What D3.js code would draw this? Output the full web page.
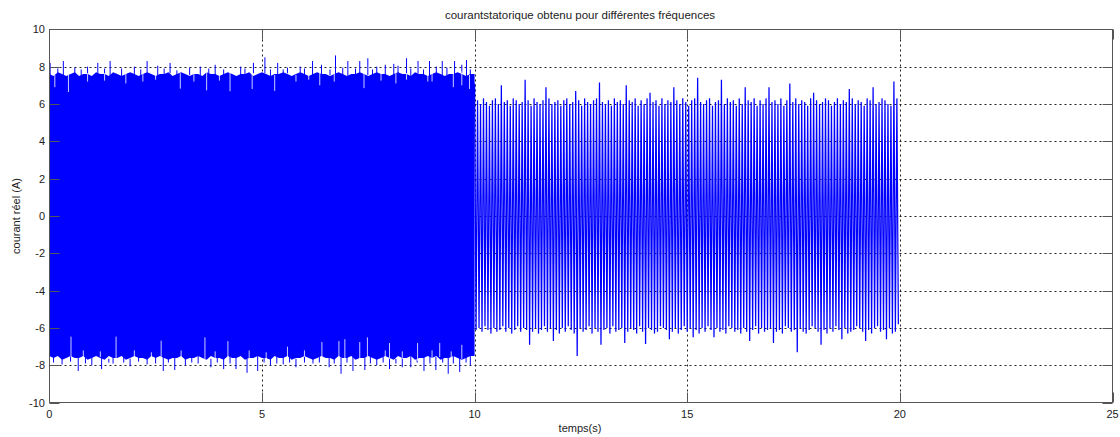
<!DOCTYPE html>
<html>
<head>
<meta charset="utf-8">
<script src="https://cdn.jsdelivr.net/npm/d3@7"></script>
<style>
  body { margin: 0; background: #fff; }
  text { font-family: "Liberation Sans", Arial, sans-serif; fill: #222; }
</style>
</head>
<body>
<svg></svg>
<script>
// axis ticks
const xTicks = [0, 5, 10, 15, 20, 25];
const yTicks = [-10, -8, -6, -4, -2, 0, 2, 4, 6, 8, 10];

// 0-10 s : dense band, edges sampled every 0.1 s
const bandStep = 0.1;
const bandUpper = [
  7.6,7.5,7.7,7.6,7.5,7.6,7.7,7.5,7.6,7.6,
  7.5,7.7,7.6,7.6,7.5,7.7,7.6,7.5,7.6,7.7,
  7.6,7.5,7.6,7.7,7.6,7.5,7.6,7.6,7.7,7.5,
  7.6,7.7,7.6,7.5,7.6,7.6,7.5,7.7,7.6,7.6,
  7.5,7.6,7.7,7.6,7.5,7.6,7.6,7.7,7.5,7.6,
  7.7,7.6,7.5,7.6,7.6,7.7,7.6,7.5,7.6,7.7,
  7.6,7.5,7.6,7.7,7.6,7.6,7.5,7.6,7.7,7.6,
  7.5,7.6,7.6,7.7,7.6,7.5,7.6,7.7,7.6,7.6,
  7.5,7.6,7.7,7.6,7.6,7.5,7.7,7.6,7.6,7.5,
  7.6,7.7,7.6,7.5,7.6,7.6,7.7,7.6,7.5,7.6
];
const bandLower = [
  -7.5,-7.6,-7.5,-7.7,-7.6,-7.5,-7.6,-7.6,-7.5,-7.7,
  -7.6,-7.5,-7.6,-7.7,-7.5,-7.6,-7.6,-7.5,-7.7,-7.6,
  -7.5,-7.6,-7.6,-7.7,-7.5,-7.6,-7.5,-7.6,-7.7,-7.6,
  -7.6,-7.5,-7.7,-7.6,-7.6,-7.5,-7.6,-7.7,-7.5,-7.6,
  -7.6,-7.7,-7.5,-7.6,-7.6,-7.5,-7.7,-7.6,-7.6,-7.5,
  -7.6,-7.6,-7.7,-7.5,-7.6,-7.6,-7.5,-7.7,-7.6,-7.6,
  -7.5,-7.6,-7.7,-7.6,-7.5,-7.6,-7.6,-7.7,-7.5,-7.6,
  -7.6,-7.5,-7.7,-7.6,-7.6,-7.5,-7.6,-7.7,-7.6,-7.5,
  -7.6,-7.7,-7.5,-7.6,-7.6,-7.5,-7.7,-7.6,-7.6,-7.5,
  -7.6,-7.5,-7.7,-7.6,-7.6,-7.5,-7.6,-7.7,-7.6,-7.5
];

// spikes sticking out of the band [t, value]
const upSpikes = [
  [0.02,8.2],[0.2,7.9],[0.33,8.3],[0.6,7.95],[0.75,7.85],[0.9,8.0],[1.14,8.2],[1.3,7.9],
  [1.43,8.3],[1.7,7.9],[2.0,8.0],[2.15,7.85],[2.3,8.3],[2.55,8.05],[2.7,7.9],[2.84,8.2],
  [3.0,7.8],[3.3,7.95],[3.55,8.0],[3.75,7.9],[3.9,8.1],[4.1,7.85],[4.5,8.0],[4.6,7.9],
  [4.8,8.2],[5.07,8.5],[5.2,7.85],[5.37,8.2],[5.5,7.85],[5.6,7.95],[5.9,8.0],[6.0,7.9],
  [6.19,8.3],[6.4,8.1],[6.6,7.85],[6.73,8.6],[6.9,7.95],[7.02,8.3],[7.2,7.9],[7.3,8.3],
  [7.49,8.45],[7.6,7.85],[7.7,8.0],[7.9,8.1],[8.1,8.15],[8.2,8.05],[8.4,8.45],[8.5,7.9],
  [8.67,8.3],[8.8,7.85],[8.94,8.3],[9.1,8.0],[9.24,8.3],[9.35,7.95],[9.53,8.3],[9.7,8.1],
  [9.81,8.35],[9.9,7.85]
];
const downSpikes = [
  [0.1,-7.85],[0.3,-7.95],[0.5,-7.8],[0.68,-8.3],[0.85,-7.9],[1.0,-8.0],[1.23,-8.2],[1.4,-7.85],
  [1.5,-7.9],[1.75,-7.85],[1.9,-8.05],[2.1,-7.8],[2.3,-7.95],[2.5,-7.9],[2.68,-8.3],[2.8,-7.85],
  [2.95,-8.25],[3.2,-8.0],[3.35,-7.85],[3.5,-7.9],[3.8,-8.1],[3.95,-7.85],[4.1,-8.2],[4.25,-7.9],
  [4.39,-8.2],[4.65,-8.4],[4.9,-8.3],[5.05,-7.85],[5.2,-8.0],[5.35,-7.9],[5.5,-7.95],[5.65,-7.85],
  [5.8,-8.1],[6.0,-7.85],[6.2,-7.9],[6.35,-7.85],[6.58,-8.1],[6.7,-7.9],[6.86,-8.45],[7.0,-7.85],
  [7.14,-8.3],[7.42,-8.25],[7.55,-7.9],[7.7,-8.0],[7.85,-7.85],[8.0,-8.2],[8.15,-7.9],[8.3,-8.1],
  [8.5,-8.1],[8.65,-7.85],[8.81,-8.3],[8.95,-7.9],[9.09,-8.25],[9.25,-7.85],[9.38,-8.45],[9.5,-7.9],
  [9.65,-8.35],[9.8,-7.85],[9.9,-8.0]
];
// white notches cutting into the band [t, value]
const topNotches = [
  [0.13,6.9],[0.45,6.64],[0.9,7.2],[1.3,7.25],[1.8,7.1],[2.2,7.2],[2.5,7.3],[3.08,6.82],
  [3.4,7.2],[3.7,6.73],[4.0,7.25],[4.25,6.68],[4.77,6.8],[5.3,6.7],[5.8,7.2],[6.1,7.3],
  [6.36,7.0],[6.7,7.2],[7.4,6.85],[7.8,7.25],[8.15,7.1],[8.4,7.3],[8.9,7.2],[9.0,7.2],
  [9.5,6.9],[9.7,7.0],[9.88,6.8]
];
const bottomNotches = [
  [0.51,-6.46],[0.8,-7.2],[1.2,-7.25],[1.57,-6.46],[2.0,-7.2],[2.4,-7.3],[2.63,-6.68],[3.1,-7.2],
  [3.66,-6.5],[3.9,-7.25],[4.2,-6.7],[4.7,-7.2],[5.1,-7.3],[5.6,-7.0],[6.0,-7.2],[6.41,-6.75],
  [6.81,-6.7],[6.95,-6.6],[7.3,-6.75],[7.48,-6.5],[7.9,-7.2],[8.0,-6.8],[8.3,-7.25],[8.66,-6.8],
  [9.0,-7.2],[9.18,-6.8],[9.45,-7.25],[9.7,-6.9]
];

// 10-20 s : separate oscillations, one max and one min per cycle
const oscStart = 10;
const oscTops = [
  7.1,6.2,6.0,6.3,6.1,5.9,6.2,6.3,6.0,7.0,
  6.1,6.2,5.9,6.3,6.2,6.0,6.1,7.3,6.2,5.9,
  6.3,6.1,6.0,6.2,6.9,6.3,6.0,6.1,6.2,5.9,
  6.2,6.3,6.0,6.1,6.7,6.2,5.9,6.3,6.1,6.0,
  6.2,6.3,7.15,6.1,6.0,6.2,5.9,6.3,6.1,6.2,
  6.0,7.0,6.2,6.1,6.3,5.9,6.2,6.0,6.3,6.6,
  6.1,6.2,5.9,6.3,6.0,6.2,6.1,6.9,6.2,6.0,
  6.3,6.1,5.9,6.2,6.3,7.4,6.1,6.0,6.2,6.3,
  5.9,6.1,6.2,7.3,6.0,6.3,6.1,6.2,5.9,6.3,
  6.0,6.9,6.2,6.1,6.3,5.9,6.2,6.0,6.3,6.9,
  6.1,6.2,6.0,6.3,5.9,6.2,7.1,6.1,6.3,6.0,
  6.2,6.1,5.9,6.3,6.6,6.2,6.0,6.1,6.3,6.2,
  5.9,6.1,6.3,6.0,6.2,6.1,6.8,6.3,6.0,6.2,
  6.1,5.9,6.3,6.2,6.9,6.0,6.1,6.3,6.2,6.0,
  5.9,7.2,6.3
];
const oscBottoms = [
  -6.1,-6.0,-6.2,-5.9,-6.1,-6.3,-6.0,-6.2,-6.1,-5.9,
  -6.2,-6.0,-6.3,-6.1,-5.9,-6.2,-6.0,-6.1,-6.9,-6.2,
  -6.0,-6.3,-6.1,-5.9,-6.2,-6.0,-6.7,-6.1,-6.3,-6.0,
  -6.2,-5.9,-6.1,-6.3,-7.5,-6.0,-6.2,-6.1,-5.9,-6.3,
  -6.0,-6.2,-6.9,-6.1,-6.0,-6.3,-5.9,-6.2,-6.1,-6.0,
  -6.8,-6.2,-6.0,-6.1,-6.3,-5.9,-6.2,-6.85,-6.0,-6.1,
  -6.3,-6.2,-5.9,-6.0,-6.1,-6.6,-6.2,-6.0,-6.3,-6.1,
  -5.9,-6.2,-6.0,-6.5,-6.1,-6.3,-6.0,-6.2,-5.9,-6.1,
  -6.5,-6.0,-6.2,-6.1,-6.3,-5.9,-6.0,-6.2,-6.1,-6.3,
  -6.0,-6.2,-6.7,-6.1,-5.9,-6.3,-6.0,-6.2,-6.1,-6.0,
  -6.8,-6.2,-6.1,-6.3,-5.9,-6.0,-6.2,-6.1,-7.3,-6.0,
  -6.2,-6.3,-6.1,-5.9,-6.0,-6.2,-6.9,-6.1,-6.3,-6.0,
  -6.2,-5.9,-6.1,-6.6,-6.0,-6.3,-6.2,-6.1,-5.9,-6.0,
  -6.2,-6.7,-6.1,-6.3,-6.0,-5.9,-6.2,-6.1,-6.6,-6.0,
  -6.3,-6.2,-5.8
];
const oscStep = 10 / oscTops.length;

const svg = d3.select("svg")
    .attr("width", 1120)
    .attr("height", 437);

const xScale = d3.scaleLinear().domain([0, 25]).range([49.3, 1112.5]);
const yScale = d3.scaleLinear().domain([-10, 10]).range([402.7, 29.3]);

const x0 = 49.5, x1 = 1112.5, y0 = 29.5, y1 = 402.5;

// grid (under data)
svg.append("g").selectAll("line")
    .data(xTicks.slice(1, -1))
    .enter().append("line")
    .attr("x1", d => Math.round(xScale(d)) + 0.5)
    .attr("x2", d => Math.round(xScale(d)) + 0.5)
    .attr("y1", y0).attr("y2", y1)
    .attr("stroke", "#222").attr("stroke-dasharray", "2,3");

svg.append("g").selectAll("line")
    .data(yTicks.slice(1, -1))
    .enter().append("line")
    .attr("y1", d => Math.round(yScale(d)) + 0.5)
    .attr("y2", d => Math.round(yScale(d)) + 0.5)
    .attr("x1", x0).attr("x2", x1)
    .attr("stroke", "#222").attr("stroke-dasharray", "2,3");

// dense band 0-10 s
const bandData = bandUpper.map((u, i) => ({t: i * bandStep, hi: u, lo: bandLower[i]}));
bandData.push({t: 10, hi: bandUpper[bandUpper.length - 1], lo: bandLower[bandLower.length - 1]});

svg.append("path")
    .datum(bandData)
    .attr("fill", "#0000ff")
    .attr("d", d3.area()
        .x(d => xScale(d.t))
        .y0(d => yScale(d.lo))
        .y1(d => yScale(d.hi)));

// edge value of the band at a given time
function bandEdge(t, arr) {
    return arr[Math.min(arr.length - 1, Math.floor(t / bandStep))];
}

svg.append("g").selectAll("line")
    .data(upSpikes)
    .enter().append("line")
    .attr("x1", d => xScale(d[0])).attr("x2", d => xScale(d[0]))
    .attr("y1", d => yScale(bandEdge(d[0], bandUpper)) + 1)
    .attr("y2", d => yScale(d[1]))
    .attr("stroke", "#0000ff").attr("stroke-width", 1);

svg.append("g").selectAll("line")
    .data(downSpikes)
    .enter().append("line")
    .attr("x1", d => xScale(d[0])).attr("x2", d => xScale(d[0]))
    .attr("y1", d => yScale(bandEdge(d[0], bandLower)) - 1)
    .attr("y2", d => yScale(d[1]))
    .attr("stroke", "#0000ff").attr("stroke-width", 1);

svg.append("g").selectAll("line")
    .data(topNotches)
    .enter().append("line")
    .attr("x1", d => xScale(d[0])).attr("x2", d => xScale(d[0]))
    .attr("y1", d => yScale(bandEdge(d[0], bandUpper)) - 1)
    .attr("y2", d => yScale(d[1]))
    .attr("stroke", "#ffffff").attr("stroke-width", 0.8);

svg.append("g").selectAll("line")
    .data(bottomNotches)
    .enter().append("line")
    .attr("x1", d => xScale(d[0])).attr("x2", d => xScale(d[0]))
    .attr("y1", d => yScale(bandEdge(d[0], bandLower)) + 1)
    .attr("y2", d => yScale(d[1]))
    .attr("stroke", "#ffffff").attr("stroke-width", 0.8);

// oscillations 10-20 s
const oscPoints = [];
oscTops.forEach((v, i) => {
    oscPoints.push([oscStart + i * oscStep, v]);
    oscPoints.push([oscStart + (i + 0.5) * oscStep, oscBottoms[i]]);
});

svg.append("path")
    .datum(oscPoints)
    .attr("fill", "none")
    .attr("stroke", "#0000ff")
    .attr("stroke-width", 1.25)
    .attr("d", d3.line().x(d => xScale(d[0])).y(d => yScale(d[1])));

// axes box
const box = svg.append("g").attr("stroke", "#555").attr("fill", "none");
box.append("rect").attr("x", x0).attr("y", y0).attr("width", x1 - x0).attr("height", y1 - y0);

// ticks inward on all four sides
xTicks.forEach(d => {
    const x = Math.round(xScale(d)) + 0.5;
    box.append("line").attr("x1", x).attr("x2", x).attr("y1", y1).attr("y2", y1 - 10);
    box.append("line").attr("x1", x).attr("x2", x).attr("y1", y0).attr("y2", y0 + 10);
});
yTicks.forEach(d => {
    const y = Math.round(yScale(d)) + 0.5;
    box.append("line").attr("x1", x0).attr("x2", x0 + 10).attr("y1", y).attr("y2", y);
    box.append("line").attr("x1", x1).attr("x2", x1 - 10).attr("y1", y).attr("y2", y);
});

// tick labels
svg.append("g").selectAll("text")
    .data(xTicks)
    .enter().append("text")
    .attr("x", d => xScale(d))
    .attr("y", 418)
    .attr("text-anchor", "middle")
    .style("font-size", "11px")
    .text(d => d);

svg.append("g").selectAll("text")
    .data(yTicks)
    .enter().append("text")
    .attr("x", 45)
    .attr("y", d => yScale(d) + 4)
    .attr("text-anchor", "end")
    .style("font-size", "11px")
    .text(d => d);

// titles
svg.append("text")
    .attr("x", 580).attr("y", 19)
    .attr("text-anchor", "middle")
    .style("font-size", "11.5px")
    .text("courantstatorique obtenu pour différentes fréquences");

svg.append("text")
    .attr("x", 580).attr("y", 432)
    .attr("text-anchor", "middle")
    .style("font-size", "11px")
    .text("temps(s)");

svg.append("text")
    .attr("transform", "translate(20, 216) rotate(-90)")
    .attr("text-anchor", "middle")
    .style("font-size", "11px")
    .text("courant réel (A)");
</script>
</body>
</html>
